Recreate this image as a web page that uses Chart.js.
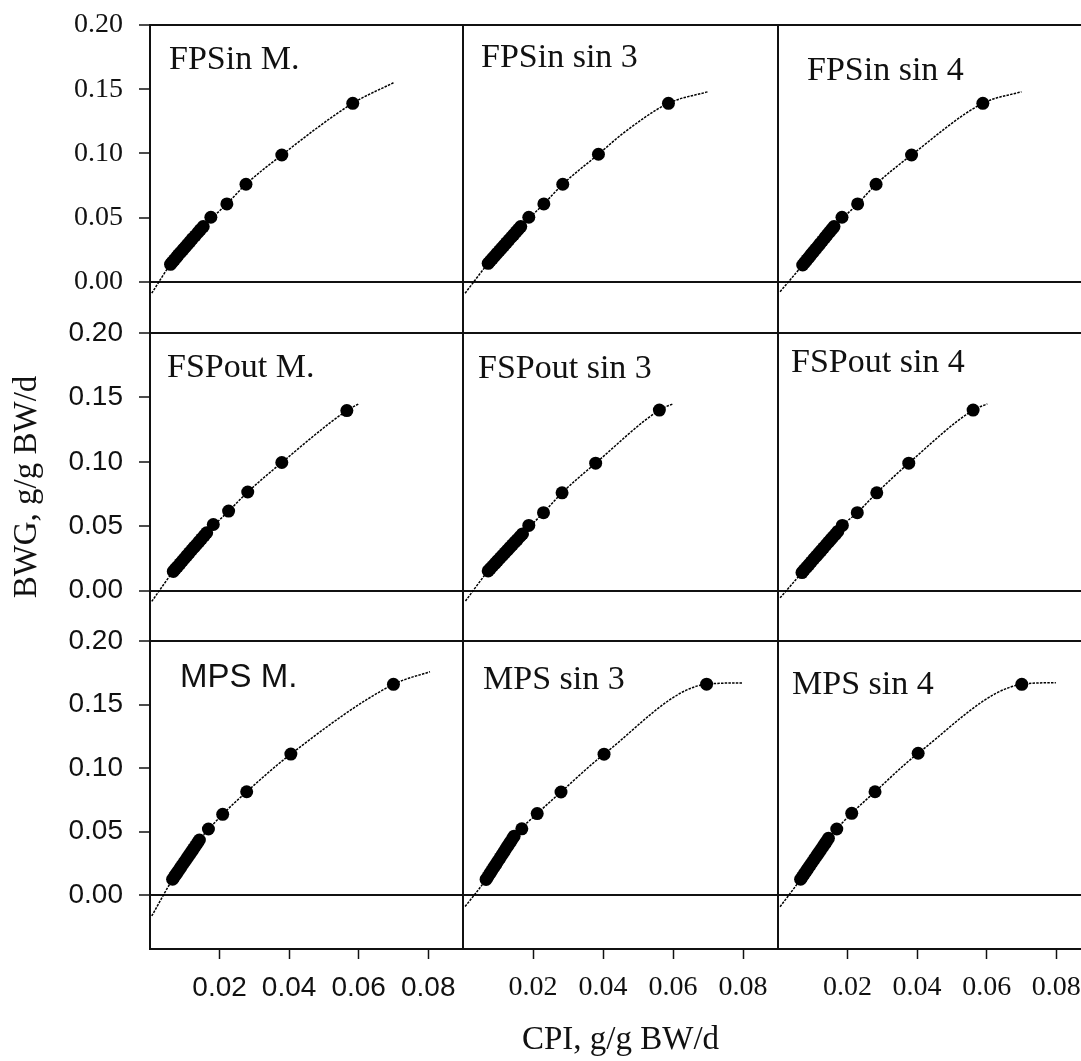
<!DOCTYPE html>
<html><head><meta charset="utf-8">
<script src="https://cdn.jsdelivr.net/npm/chart.js@4.4.1/dist/chart.umd.min.js"></script>
<style>
html,body{margin:0;padding:0;width:1081px;height:1061px;overflow:hidden;background:#fff;}
canvas{position:absolute;}
</style></head><body>
<script>
// ---------- text ----------
const panelNames = ['FPSin M.','FPSin sin 3','FPSin sin 4','FSPout M.','FSPout sin 3','FSPout sin 4','MPS M.','MPS sin 3','MPS sin 4'];
const yTitle = 'BWG, g/g BW/d';
const xTitle = 'CPI, g/g BW/d';
const yTickValues = [0, 0.05, 0.10, 0.15, 0.20];
const yTickLabels = ['0.00','0.05','0.10','0.15','0.20'];
const xTickValues = [0.02, 0.04, 0.06, 0.08];
const xTickLabels = ['0.02','0.04','0.06','0.08'];

// ---------- observed points (CPI, BWG) ----------
const p1x = [0.0059,0.0064,0.0070,0.0076,0.0081,0.0088,0.0095,0.0101,0.0108,0.0115,0.0122,0.0130,0.0138,0.0145,0.0153,0.0175,0.0221,0.0276,0.0379,0.0583];
const p1y = [0.0135,0.0152,0.0170,0.0190,0.0207,0.0228,0.0250,0.0268,0.0290,0.0312,0.0335,0.0358,0.0383,0.0405,0.0429,0.0502,0.0606,0.0759,0.0987,0.1390];
const p2x = [0.0072,0.0078,0.0084,0.0090,0.0097,0.0104,0.0110,0.0117,0.0124,0.0131,0.0138,0.0145,0.0152,0.0158,0.0165,0.0188,0.0231,0.0285,0.0387,0.0587];
const p2y = [0.0143,0.0161,0.0180,0.0198,0.0220,0.0241,0.0260,0.0281,0.0303,0.0324,0.0346,0.0367,0.0389,0.0408,0.0429,0.0502,0.0606,0.0759,0.0993,0.1390];
const p3x = [0.0071,0.0077,0.0083,0.0089,0.0095,0.0101,0.0108,0.0115,0.0121,0.0128,0.0135,0.0141,0.0148,0.0155,0.0161,0.0184,0.0229,0.0282,0.0384,0.0589];
const p3y = [0.0130,0.0150,0.0170,0.0190,0.0210,0.0230,0.0253,0.0276,0.0296,0.0319,0.0343,0.0363,0.0386,0.0409,0.0429,0.0502,0.0606,0.0759,0.0987,0.1390];
const p4x = [0.0067,0.0073,0.0079,0.0086,0.0093,0.0099,0.0106,0.0113,0.0120,0.0127,0.0134,0.0141,0.0148,0.0156,0.0163,0.0182,0.0226,0.0281,0.0379,0.0566];
const p4y = [0.0150,0.0169,0.0187,0.0209,0.0231,0.0250,0.0272,0.0294,0.0316,0.0338,0.0359,0.0381,0.0403,0.0428,0.0450,0.0514,0.0618,0.0766,0.0995,0.1398];
const p5x = [0.0072,0.0078,0.0085,0.0092,0.0099,0.0106,0.0113,0.0120,0.0127,0.0134,0.0141,0.0148,0.0155,0.0163,0.0170,0.0188,0.0230,0.0283,0.0379,0.0561];
const p5y = [0.0154,0.0172,0.0192,0.0213,0.0233,0.0254,0.0274,0.0295,0.0315,0.0336,0.0356,0.0377,0.0397,0.0421,0.0441,0.0507,0.0606,0.0760,0.0990,0.1402];
const p6x = [0.0069,0.0075,0.0082,0.0089,0.0096,0.0103,0.0110,0.0117,0.0124,0.0131,0.0138,0.0145,0.0152,0.0158,0.0165,0.0172,0.0185,0.0228,0.0284,0.0376,0.0561];
const p6y = [0.0141,0.0160,0.0182,0.0203,0.0225,0.0247,0.0268,0.0290,0.0312,0.0333,0.0355,0.0377,0.0398,0.0417,0.0438,0.0460,0.0507,0.0606,0.0760,0.0990,0.1402];
const p7x = [0.0065,0.0070,0.0075,0.0080,0.0086,0.0091,0.0097,0.0102,0.0108,0.0114,0.0120,0.0125,0.0131,0.0137,0.0142,0.0168,0.0209,0.0278,0.0405,0.0700];
const p7y = [0.0124,0.0144,0.0164,0.0184,0.0208,0.0228,0.0252,0.0272,0.0296,0.0320,0.0344,0.0364,0.0388,0.0412,0.0433,0.0520,0.0635,0.0813,0.1110,0.1659];
const p8x = [0.0066,0.0071,0.0077,0.0082,0.0088,0.0094,0.0100,0.0106,0.0112,0.0118,0.0124,0.0129,0.0135,0.0141,0.0146,0.0168,0.0212,0.0280,0.0403,0.0696];
const p8y = [0.0123,0.0144,0.0170,0.0191,0.0217,0.0242,0.0268,0.0293,0.0319,0.0344,0.0370,0.0391,0.0416,0.0442,0.0463,0.0521,0.0641,0.0811,0.1109,0.1660];
const p9x = [0.0065,0.0070,0.0076,0.0082,0.0087,0.0093,0.0099,0.0105,0.0111,0.0116,0.0122,0.0128,0.0134,0.0139,0.0145,0.0169,0.0212,0.0279,0.0403,0.0701];
const p9y = [0.0124,0.0144,0.0168,0.0192,0.0212,0.0236,0.0260,0.0284,0.0308,0.0328,0.0352,0.0376,0.0400,0.0420,0.0446,0.0520,0.0643,0.0813,0.1116,0.1659];

// ---------- fitted curves ----------
const c1x = [0.0005,0.0059,0.0153,0.0221,0.0276,0.0379,0.0583,0.0700];
const c1y = [-0.0090,0.0135,0.0429,0.0606,0.0759,0.0987,0.1390,0.1550];
const c2x = [0.0006,0.0072,0.0165,0.0231,0.0285,0.0387,0.0458,0.0587,0.0700];
const c2y = [-0.0090,0.0143,0.0429,0.0606,0.0759,0.0993,0.1157,0.1390,0.1480];
const c3x = [0.0006,0.0071,0.0161,0.0229,0.0282,0.0384,0.0589,0.0700];
const c3y = [-0.0078,0.0130,0.0429,0.0606,0.0759,0.0987,0.1390,0.1480];
const c4x = [0.0005,0.0067,0.0163,0.0226,0.0281,0.0379,0.0566,0.0601];
const c4y = [-0.0083,0.0150,0.0450,0.0618,0.0766,0.0995,0.1398,0.1452];
const c5x = [0.0007,0.0072,0.0170,0.0230,0.0283,0.0379,0.0561,0.0601];
const c5y = [-0.0080,0.0154,0.0441,0.0606,0.0760,0.0990,0.1402,0.1452];
const c6x = [0.0006,0.0069,0.0185,0.0228,0.0284,0.0376,0.0561,0.0602];
const c6y = [-0.0055,0.0141,0.0507,0.0606,0.0760,0.0990,0.1402,0.1450];
const c7x = [0.0005,0.0065,0.0142,0.0209,0.0278,0.0405,0.0700,0.0805];
const c7y = [-0.0165,0.0124,0.0433,0.0635,0.0813,0.1110,0.1659,0.1758];
const c8x = [0.0006,0.0066,0.0146,0.0212,0.0280,0.0403,0.0696,0.0799];
const c8y = [-0.0091,0.0123,0.0463,0.0641,0.0811,0.1109,0.1660,0.1670];
const c9x = [0.0006,0.0065,0.0145,0.0212,0.0279,0.0403,0.0701,0.0799];
const c9y = [-0.0092,0.0124,0.0446,0.0643,0.0813,0.1116,0.1659,0.1672];

const pointsX = [p1x,p2x,p3x,p4x,p5x,p6x,p7x,p8x,p9x];
const pointsY = [p1y,p2y,p3y,p4y,p5y,p6y,p7y,p8y,p9y];
const curvesX = [c1x,c2x,c3x,c4x,c5x,c6x,c7x,c8x,c9x];
const curvesY = [c1y,c2y,c3y,c4y,c5y,c6y,c7y,c8y,c9y];

// ---------- axis ranges ----------
const xMin = 0, xMax = 0.09;
const yMax = 0.20;
const yMinByRow = [-0.040, -0.039, -0.0425];

// ---------- layout / styles ----------
const colLeft = [150, 463, 778];
const colWidth = [313, 315, 313];
const rowTop = [25, 333, 641];
const rowHeight = 308;
const SERIF = '"Liberation Serif", "Times New Roman", serif';
const SANS = '"Liberation Sans", Arial, sans-serif';
const INK = '#111';
const titleStyle = [
  {dx:19, dy:44, font:'34px '+SERIF},
  {dx:18, dy:42, font:'34px '+SERIF},
  {dx:29, dy:55, font:'34px '+SERIF},
  {dx:17, dy:44, font:'34px '+SERIF},
  {dx:15, dy:45, font:'34px '+SERIF},
  {dx:13, dy:39, font:'34px '+SERIF},
  {dx:30, dy:46, font:'33px '+SANS},
  {dx:20, dy:48, font:'34px '+SERIF},
  {dx:14, dy:53, font:'34px '+SERIF}
];
const yTickFontByRow = [SERIF, SANS, SANS];
const xTickFontByCol = [SANS, SERIF, SERIF];

const panelTitlePlugin = {
  id: 'panelTitle',
  afterDraw(chart, args, opts) {
    const {ctx, chartArea} = chart;
    ctx.save();
    ctx.font = opts.font;
    ctx.fillStyle = INK;
    ctx.textAlign = 'left';
    ctx.textBaseline = 'alphabetic';
    ctx.fillText(opts.text, chartArea.left + opts.dx, chartArea.top + opts.dy);
    ctx.restore();
  }
};

const isRef = v => Math.abs(v) < 1e-9 || Math.abs(v - 0.2) < 1e-9;

function makePanel(i) {
  const r = Math.floor(i / 3), c = i % 3;
  const padL = c === 0 ? 150 : 20;
  const padT = 25, padR = 40;
  const padB = r === 2 ? (1061 - (rowTop[2] + rowHeight)) : 12;
  const cv = document.createElement('canvas');
  const w = padL + colWidth[c] + padR, h = padT + rowHeight + padB;
  cv.width = w; cv.height = h;
  cv.style.width = w + 'px'; cv.style.height = h + 'px';
  cv.style.left = (colLeft[c] - padL) + 'px';
  cv.style.top = (rowTop[r] - padT) + 'px';
  document.body.appendChild(cv);

  const pts = pointsX[i].map((x, k) => ({x, y: pointsY[i][k]}));
  const curve = curvesX[i].map((x, k) => ({x, y: curvesY[i][k]}));

  new Chart(cv, {
    type: 'scatter',
    data: {
      datasets: [
        {type:'scatter', data: pts, order: 0, pointRadius: 6.5, pointHoverRadius: 6.5,
         pointBackgroundColor: '#000', pointBorderColor: '#000', pointBorderWidth: 0, showLine: false},
        {type:'line', data: curve, order: 1, borderColor: '#000', borderWidth: 1.5,
         borderDash: [2.5, 1.2], pointRadius: 0, fill: false, cubicInterpolationMode: 'monotone'}
      ]
    },
    options: {
      responsive: false, animation: false, devicePixelRatio: 1,
      layout: {padding: {left: 0, top: padT, right: padR, bottom: 0}},
      plugins: {
        legend: {display: false}, tooltip: {enabled: false},
        panelTitle: Object.assign({text: panelNames[i]}, titleStyle[i])
      },
      events: [],
      scales: {
        x: {
          type: 'linear', min: xMin, max: xMax,
          afterBuildTicks: s => { s.ticks = xTickValues.map(v => ({value: v})); },
          afterFit: s => { s.height = padB; s.paddingLeft = 0; s.paddingRight = 0; s.paddingTop = 0; s.paddingBottom = 0; },
          ticks: {display: r === 2, callback: (v, k) => xTickLabels[k], color: INK,
                  font: {family: xTickFontByCol[c], size: 28}, padding: 12, maxRotation: 0, autoSkip: false},
          grid: {display: r === 2, drawOnChartArea: false, drawTicks: true, tickLength: 10,
                 tickColor: INK, tickWidth: 1.5},
          border: {display: r === 2, color: INK, width: 2},
          title: {display: i === 7, text: xTitle, color: INK,
                  font: {family: SERIF, size: 33}, padding: {top: 0, bottom: 1}}
        },
        y: {
          type: 'linear', min: yMinByRow[r], max: yMax,
          afterBuildTicks: s => { s.ticks = yTickValues.map(v => ({value: v})); },
          afterFit: s => { s.width = padL; s.paddingLeft = 0; s.paddingRight = 0; s.paddingTop = 0; s.paddingBottom = 0; },
          ticks: {display: c === 0, callback: (v, k) => yTickLabels[k], color: INK,
                  font: {family: yTickFontByRow[r], size: 28}, padding: 16},
          grid: {
            display: true, drawOnChartArea: true, drawTicks: c === 0, tickLength: 11,
            color: ctx => (ctx.tick && isRef(ctx.tick.value)) ? INK : 'rgba(0,0,0,0)',
            lineWidth: 2, tickColor: INK, tickWidth: 1.5
          },
          border: {display: true, color: INK, width: 2},
          title: {display: i === 3, text: yTitle, color: INK,
                  font: {family: SERIF, size: 33}, padding: {top: 8, bottom: 0}}
        }
      }
    },
    plugins: [panelTitlePlugin]
  });
}

for (let i = 0; i < 9; i++) makePanel(i);
</script>
</body></html>
